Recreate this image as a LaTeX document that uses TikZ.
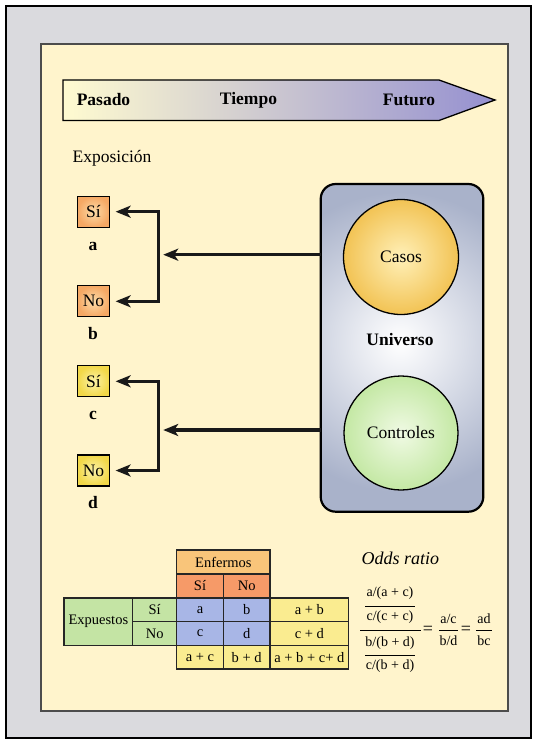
\documentclass[tikz,border=0pt]{standalone}
\usepackage{fontspec}
\setmainfont{Liberation Serif}
\usetikzlibrary{arrows.meta,calc}
\definecolor{outerbg}{HTML}{DADADE}
\definecolor{panel}{HTML}{FFF4CC}
\definecolor{arrL}{HTML}{FFFBD0}
\definecolor{arrM}{HTML}{CFCCC6}
\definecolor{arrR}{HTML}{9590D0}
\definecolor{univ}{HTML}{A9B2CA}
\definecolor{casosO}{HTML}{F2C354}
\definecolor{casosI}{HTML}{FFF0B8}
\definecolor{contO}{HTML}{C4E8A4}
\definecolor{contI}{HTML}{F0FAE4}
\definecolor{abO}{HTML}{F5A864}
\definecolor{abI}{HTML}{FDDCA8}
\definecolor{cdO}{HTML}{F2D848}
\definecolor{cdI}{HTML}{FBF2A8}
\definecolor{tEnf}{HTML}{F9C57A}
\definecolor{tHead}{HTML}{F69A68}
\definecolor{tGreen}{HTML}{C4E4A4}
\definecolor{tBlue}{HTML}{A8B6E6}
\definecolor{tYel}{HTML}{FAEC90}
\tikzset{
  big/.style={font=\fontsize{17.5}{20}\selectfont},
  bigb/.style={font=\fontsize{17.5}{20}\selectfont\bfseries},
  tab/.style={font=\fontsize{14.5}{17}\selectfont},
  frac/.style={font=\fontsize{14}{16}\selectfont, inner sep=0pt},
  cell/.style={draw=black!85, line width=1.2pt, inner sep=0pt, tab},
  expbox/.style={draw=black, line width=1.2pt, minimum width=32pt, minimum height=31pt, inner sep=0pt, big},
  arr/.style={line width=3.5pt, line join=miter, draw=black!90, -{Stealth[length=15pt,width=12pt,inset=4pt]}},
  arr2/.style={line width=3.5pt, line join=miter, draw=black!90, {Stealth[length=15pt,width=12pt,inset=4pt]}-{Stealth[length=15pt,width=12pt,inset=4pt]}},
  barline/.style={line width=1pt}
}
\begin{document}
\begin{tikzpicture}[x=1pt,y=-1pt]
\useasboundingbox (0,0) rectangle (536,743);
% backgrounds
\draw[line width=1.5pt, fill=outerbg] (6,6) rectangle (531,738);
\draw[line width=1.6pt, draw=black!70, fill=panel] (41,44) rectangle (508,711);

% time arrow
\draw[line width=1.3pt, left color=arrL, middle color=arrM, right color=arrR]
  (63,80) -- (439,80) -- (495,100) -- (439,120.5) -- (63,120.5) -- cycle;
\node[bigb] (pasado) at (103.5,100) {Pasado};
\node[bigb] (tiempo) at (248.5,100) {Tiempo};
\node[bigb] (futuro) at (409,100) {Futuro};

% exposure
\node[big, anchor=west, inner sep=0pt] (expo) at (72.5,158) {Exposición};
\node[expbox, inner color=abI, outer color=abO] (sia) at (93.5,211.7) {Sí};
\node[expbox, inner color=abI, outer color=abO] (nob) at (93.5,301.3) {No};
\node[expbox, inner color=cdI, outer color=cdO] (sic) at (93.5,381.3) {Sí};
\node[expbox, inner color=cdI, outer color=cdO] (nod) at (93.5,470.5) {No};
\node[bigb] (la) at (93,246.5) {a};
\node[bigb] (lb) at (93,334) {b};
\node[bigb] (lc) at (93,415) {c};
\node[bigb] (ld) at (93,503) {d};

% universe
\node[draw=none, fill=univ, rounded corners=15pt, minimum width=162.6pt, minimum height=327.7pt, inner sep=0pt] (univ) at (402,347.85) {};
\begin{scope}
  \clip[rounded corners=15pt] (320.7,184) rectangle (483.3,511.7);
  \shade[inner color=white, outer color=univ] (400,342) circle (150);
\end{scope}
\draw[line width=2.2pt, rounded corners=15pt] (320.7,184) rectangle (483.3,511.7);
\node[draw, line width=1.3pt, circle, minimum size=115pt, inner sep=0pt, inner color=casosI, outer color=casosO, big] (casos) at (401,257) {Casos};
\node[draw, line width=1.3pt, circle, minimum size=114pt, inner sep=0pt, inner color=contI, outer color=contO, big] (controles) at (401,433) {Controles};
\node[bigb] (universo) at (400,340) {Universo};

% connectors
\coordinate (j1) at (158.7,254.7);
\coordinate (j2) at (158.7,430);
\draw[arr] (univ.west |- j1) -- ([xshift=4.5pt]j1);
\draw[arr] (univ.west |- j2) -- ([xshift=4.5pt]j2);
\draw[arr2] ([xshift=5.5pt]sia.east) -| (j1) |- ([xshift=5.5pt]nob.east);
\draw[arr2] ([xshift=5.5pt]sic.east) -| (j2) |- ([xshift=5.5pt]nod.east);

% table
\node[cell, fill=tEnf, minimum width=93.3pt, minimum height=24pt] (enf) at (223.35,562) {Enfermos};
\node[cell, fill=tHead, minimum width=46.6pt, minimum height=24pt] (hsi) at (200,586) {Sí};
\node[cell, fill=tHead, minimum width=46.7pt, minimum height=24pt] (hno) at (246.65,586) {No};
\node[cell, fill=tGreen, minimum width=68.7pt, minimum height=47.3pt] (exp) at (98.35,621.65) {Expuestos};
\node[cell, fill=tGreen, minimum width=44pt, minimum height=23.5pt] (rsi) at (154.7,609.75) {Sí};
\node[cell, fill=tGreen, minimum width=44pt, minimum height=23.8pt] (rno) at (154.7,633.4) {No};
\node[cell, fill=tBlue, minimum width=46.6pt, minimum height=23.5pt] (ca) at (200,609.75) {a};
\node[cell, fill=tBlue, minimum width=46.7pt, minimum height=23.5pt] (cb) at (246.65,609.75) {b};
\node[cell, fill=tBlue, minimum width=46.6pt, minimum height=23.8pt] (cc) at (200,633.4) {c};
\node[cell, fill=tBlue, minimum width=46.7pt, minimum height=23.8pt] (cd) at (246.65,633.4) {d};
\node[cell, fill=tYel, minimum width=78.7pt, minimum height=23.5pt] (sab) at (309.35,609.75) {a + b};
\node[cell, fill=tYel, minimum width=78.7pt, minimum height=23.8pt] (scd) at (309.35,633.4) {c + d};
\node[cell, fill=tYel, minimum width=46.6pt, minimum height=23.7pt] (sac) at (200,657.15) {a + c};
\node[cell, fill=tYel, minimum width=46.7pt, minimum height=23.7pt] (sbd) at (246.65,657.15) {b + d};
\node[cell, fill=tYel, minimum width=78.7pt, minimum height=23.7pt] (sall) at (309.35,657.15) {a + b + c+ d};

% odds ratio
\node[font=\fontsize{18}{20}\selectfont\itshape] (odds) at (400.3,558) {Odds ratio};
\node[frac] (f1) at (390,593) {a/(a + c)};
\node[frac] (f2) at (390,617.5) {c/(c + c)};
\node[frac] (f3) at (390,643) {b/(b + d)};
\node[frac] (f4) at (390,666.5) {c/(b + d)};
\draw[barline] (365,606) -- (415,606);
\draw[barline] (360,630) -- (421,630);
\draw[barline] (365,655.3) -- (415,655.3);
\node[frac, font=\fontsize{18}{20}\selectfont] (eq1) at (428,630) {=};
\node[frac] (ac) at (448.5,619) {a/c};
\node[frac] (bd) at (448.5,641) {b/d};
\draw[barline] (439,630) -- (458,630);
\node[frac, font=\fontsize{18}{20}\selectfont] (eq2) at (466,630) {=};
\node[frac] (ad) at (484,619) {ad};
\node[frac] (bc) at (484,641) {bc};
\draw[barline] (476,630) -- (492,630);
\end{tikzpicture}
\end{document}
